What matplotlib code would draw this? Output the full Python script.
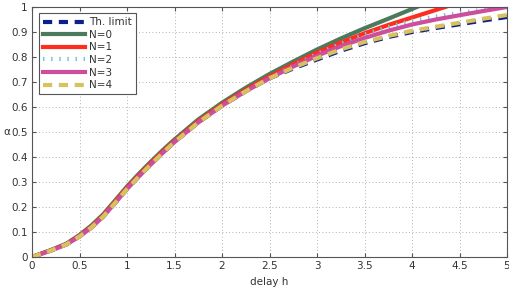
import matplotlib
matplotlib.use("Agg")
import matplotlib.pyplot as plt

h_low = [0, 0.2, 0.36, 0.5, 0.625, 0.75, 0.875, 1.0, 1.125, 1.25, 1.375, 1.5, 1.75, 2.0, 2.25, 2.5]
a_low = [0, 0.026, 0.05, 0.082, 0.118, 0.162, 0.216, 0.272, 0.322, 0.37, 0.416, 0.46, 0.538, 0.605, 0.663, 0.715]

h_up = [2.75, 3.0, 3.25, 3.5, 3.75, 4.0, 4.25, 4.5, 4.75, 5.0]

h_lim = h_low + h_up
a_lim = a_low + [0.754, 0.79, 0.825, 0.855, 0.88, 0.9, 0.916, 0.931, 0.946, 0.96]

h_n0 = h_low + [2.75, 3.0, 3.25, 3.5, 3.75, 4.0, 4.05]
a_n0 = [0, 0.028, 0.053, 0.088, 0.126, 0.171, 0.226, 0.282, 0.333, 0.381, 0.427, 0.47, 0.55, 0.617,
        0.677, 0.732, 0.782, 0.83, 0.874, 0.915, 0.953, 0.992, 1.0]

h_n1 = h_low + [2.75, 3.0, 3.25, 3.5, 3.75, 4.0, 4.25, 4.35]
a_n1 = [0, 0.027, 0.051, 0.085, 0.121, 0.166, 0.221, 0.277, 0.327, 0.375, 0.421, 0.464, 0.543, 0.61,
        0.669, 0.722, 0.771, 0.818, 0.858, 0.895, 0.928, 0.958, 0.988, 1.0]

h_n2 = h_low + h_up
a_n2 = a_low + [0.765, 0.812, 0.853, 0.89, 0.92, 0.945, 0.962, 0.976, 0.989, 1.0]

h_n3 = h_low + h_up
a_n3 = a_low + [0.762, 0.805, 0.843, 0.876, 0.905, 0.93, 0.95, 0.967, 0.984, 1.0]

h_n4 = h_low + h_up
a_n4 = a_low + [0.757, 0.795, 0.83, 0.86, 0.884, 0.905, 0.921, 0.937, 0.953, 0.968]

labels = ["Th. limit", "N=0", "N=1", "N=2", "N=3", "N=4"]
x_ticks = [0, 0.5, 1, 1.5, 2, 2.5, 3, 3.5, 4, 4.5, 5]
x_ticklabels = ["0", "0.5", "1", "1.5", "2", "2.5", "3", "3.5", "4", "4.5", "5"]
y_ticks = [0, 0.1, 0.2, 0.3, 0.4, 0.5, 0.6, 0.7, 0.8, 0.9, 1]
y_ticklabels = ["0", "0.1", "0.2", "0.3", "0.4", "0.5", "0.6", "0.7", "0.8", "0.9", "1"]

plt.rcParams['font.family'] = ['DejaVu Sans']
fig = plt.figure(figsize=(5.10, 2.87), dpi=100)
ax = fig.add_axes([32/510, 30/287, 475/510, 250/287])

lw = 3.0
ax.plot(h_lim, a_lim, color="#0d1f8a", lw=lw, dashes=(2.2, 1.6), label=labels[0])
ax.plot(h_n0, a_n0, color="#4c7a5c", lw=lw, label=labels[1])
ax.plot(h_n1, a_n1, color="#ff2d1f", lw=lw, label=labels[2])
ax.plot(h_n2, a_n2, color="#6fc8dc", lw=lw, dashes=(0.35, 1.6), dash_capstyle='butt', label=labels[3])
ax.plot(h_n3, a_n3, color="#cc4e9c", lw=lw, label=labels[4])
ax.plot(h_n4, a_n4, color="#d8c25e", lw=lw, dashes=(2.2, 1.6), label=labels[5])

ax.set_xlim(0, 5)
ax.set_ylim(0, 1)
ax.set_xticks(x_ticks)
ax.set_xticklabels(x_ticklabels)
ax.set_yticks(y_ticks)
ax.set_yticklabels(y_ticklabels)
ax.tick_params(direction='in', top=True, right=True, labelsize=7.5, length=3,
               color="#555555", labelcolor="#333333", pad=3)
for s in ax.spines.values():
    s.set_color("#555555")
    s.set_linewidth(0.8)
ax.grid(True, linestyle=(0, (1, 3)), color="#999999", linewidth=0.6)
ax.set_axisbelow(True)

ax.set_xlabel("delay h", fontsize=7.5, color="#333333", labelpad=4)
ax.set_ylabel("α", fontsize=7.5, color="#333333", rotation=0, ha='center', va='center')
ax.yaxis.set_label_coords(-0.052, 0.5)

leg = ax.legend(loc='upper left', bbox_to_anchor=(0.0147, 0.976), borderaxespad=0,
                fontsize=7.5, handlelength=4.0, labelspacing=0.25, handletextpad=0.4,
                borderpad=0.4, fancybox=False, framealpha=1, edgecolor="#555555")
leg.get_frame().set_linewidth(0.8)
for t in leg.get_texts():
    t.set_color("#333333")

fig.savefig("out.png", dpi=100)
